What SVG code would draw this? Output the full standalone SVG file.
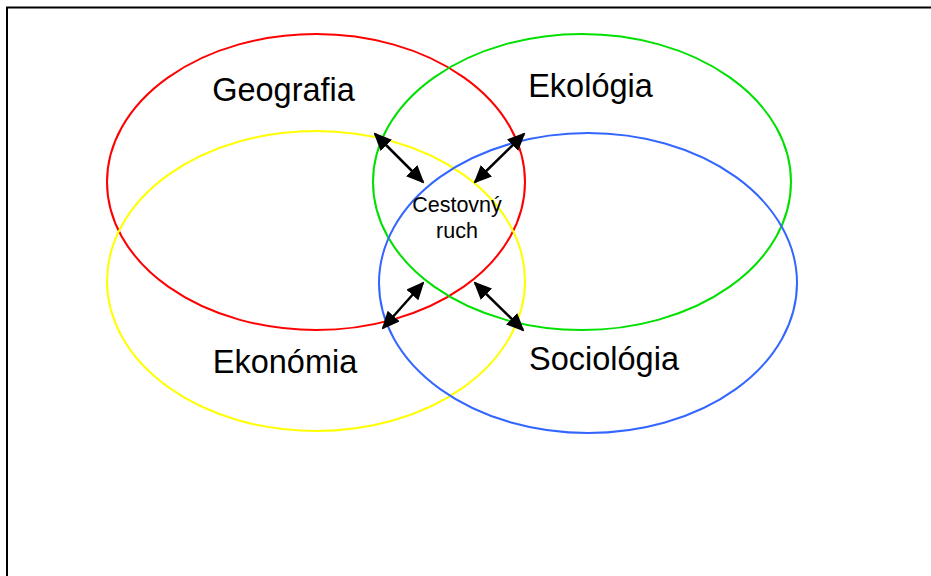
<svg xmlns="http://www.w3.org/2000/svg" width="931" height="576" viewBox="0 0 931 576">
<style>
.el{fill:none;stroke-width:2}
.lbl{font-family:"Liberation Sans",Arial,sans-serif;font-size:32.5px;fill:#000;text-anchor:middle}
.sm{font-family:"Liberation Sans",Arial,sans-serif;font-size:21.5px;fill:#000;text-anchor:middle}
.ar{stroke:#000;stroke-width:2.5;fill:none;marker-start:url(#ah);marker-end:url(#ah)}
</style>
<defs>
<marker id="ah" markerUnits="userSpaceOnUse" markerWidth="18" markerHeight="16" refX="16" refY="8" orient="auto-start-reverse" viewBox="0 0 18 16">
<path d="M0,0 L18,8 L0,16 Z" fill="#000"/>
</marker>
</defs>
<rect width="931" height="576" fill="#fff"/>
<path d="M7,576 V7.5 H931" fill="none" stroke="#000" stroke-width="2"/>
<g id="geografia">
<ellipse class="el" cx="316" cy="182" rx="209" ry="148" stroke="#ff0000"/>
<text class="lbl" x="283.5" y="101">Geografia</text>
</g>
<g id="ekonomia">
<ellipse class="el" cx="316" cy="281" rx="209" ry="150" stroke="#ffff00"/>
<text class="lbl" x="285" y="373">Ekonómia</text>
</g>
<g id="ekologia">
<ellipse class="el" cx="582" cy="182" rx="209" ry="148" stroke="#00e000"/>
<text class="lbl" x="590.5" y="97">Ekológia</text>
</g>
<g id="sociologia">
<ellipse class="el" cx="588" cy="283" rx="209" ry="150" stroke="#3366ff"/>
<text class="lbl" x="604" y="370">Sociológia</text>
</g>
<g id="cestovny-ruch">
<text class="sm" x="457" y="212">Cestovný</text>
<text class="sm" x="457" y="238">ruch</text>
</g>
<g id="connectors">
<line class="ar" x1="375" y1="134" x2="423" y2="182"/>
<line class="ar" x1="524" y1="134" x2="475" y2="182"/>
<line class="ar" x1="383" y1="328" x2="423" y2="283"/>
<line class="ar" x1="475" y1="283" x2="523" y2="330"/>
</g>
</svg>
